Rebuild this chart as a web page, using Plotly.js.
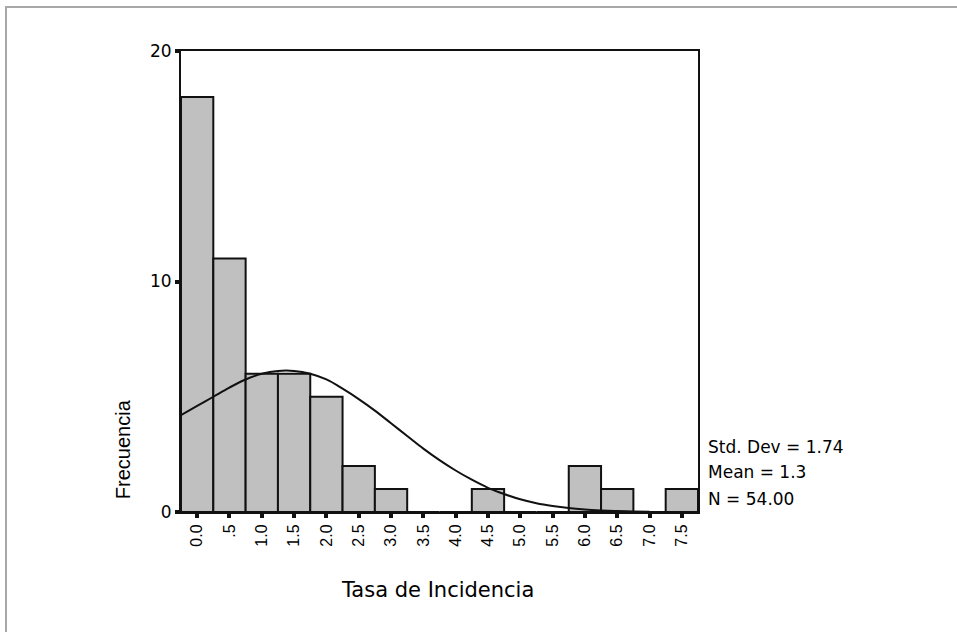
<!DOCTYPE html>
<html>
<head>
<meta charset="utf-8">
<script src="https://cdn.plot.ly/plotly-3.0.1.min.js"></script>
<style>
  html, body { margin: 0; padding: 0; background: #fff; }
  #wrap { position: relative; width: 957px; height: 632px; overflow: hidden; }
  #chart { position: absolute; left: 0; top: 0; width: 957px; height: 632px; }
  #frame { position: absolute; left: 5px; top: 6px; width: 960px; height: 640px;
           border-left: 2px solid #a8a8a8; border-top: 2px solid #a8a8a8; pointer-events: none; }
</style>
</head>
<body>
<div id="wrap">
  <div id="chart"></div>
  <div id="frame"></div>
</div>
<script>
// Histogram bins (centres) and frequencies
const binCenters = [0.0, 0.5, 1.0, 1.5, 2.0, 2.5, 3.0, 3.5, 4.0, 4.5, 5.0, 5.5, 6.0, 6.5, 7.0, 7.5];
const frequencies = [18, 11, 6, 6, 5, 2, 1, 0, 0, 1, 0, 0, 2, 1, 0, 1];
const tickLabels = ["0.0", ".5", "1.0", "1.5", "2.0", "2.5", "3.0", "3.5", "4.0", "4.5", "5.0", "5.5", "6.0", "6.5", "7.0", "7.5"];

// Normal curve
const curveX = [-0.25, 0, 0.25, 0.5, 0.75, 1.0, 1.25, 1.5, 1.75, 2.0, 2.25, 2.5, 2.75, 3.0, 3.25, 3.5, 3.75, 4.0, 4.25, 4.5, 4.75, 5.0, 5.25, 5.5, 5.75, 6.0, 6.25, 6.5, 6.75, 7.0];
const curveY = [4.2, 4.6, 5.0, 5.4, 5.75, 6.0, 6.12, 6.12, 6.0, 5.75, 5.35, 4.9, 4.4, 3.85, 3.3, 2.75, 2.25, 1.8, 1.4, 1.05, 0.78, 0.55, 0.38, 0.26, 0.17, 0.11, 0.07, 0.04, 0.02, 0.01];

const statsLines = ["Std. Dev = 1.74", "Mean = 1.3", "N = 54.00"];
const statsY = [2.82, 1.74, 0.58];

const FONT = "Liberation Sans, Arial, sans-serif";
const WIDE = "DejaVu Sans, Verdana, sans-serif";
const INK = "#000";

const traces = [
  {
    type: "bar",
    x: binCenters,
    y: frequencies,
    width: 0.5,
    marker: { color: "#c0c0c0", line: { color: "#111", width: 2 } },
    hoverinfo: "x+y"
  },
  {
    type: "scatter",
    mode: "lines",
    x: curveX,
    y: curveY,
    line: { color: "#111", width: 2, shape: "spline" },
    hoverinfo: "skip"
  }
];

const annotations = statsLines.map((t, i) => ({
  text: t, xref: "paper", yref: "y", x: 1.016, y: statsY[i],
  xanchor: "left", yanchor: "middle", showarrow: false,
  font: { family: WIDE, size: 17, color: INK }
}));
annotations.push({
  text: "Frecuencia", xref: "paper", yref: "y", x: -0.112, y: 2.73,
  xanchor: "center", yanchor: "middle", textangle: -90, showarrow: false,
  font: { family: FONT, size: 20, color: INK }
});
annotations.push({
  text: "Tasa de Incidencia", xref: "paper", yref: "paper", x: 0.497, y: -0.169,
  xanchor: "center", yanchor: "middle", showarrow: false,
  font: { family: WIDE, size: 21, color: INK }
});

const layout = {
  width: 957, height: 632,
  margin: { l: 181, r: 259, t: 51, b: 120, pad: 0 },
  paper_bgcolor: "#fff", plot_bgcolor: "#fff",
  showlegend: false,
  bargap: 0,
  xaxis: {
    range: [-0.25, 7.75],
    tickmode: "array", tickvals: binCenters, ticktext: tickLabels,
    tickangle: -90,
    ticks: "outside", ticklen: 4, tickwidth: 4, tickcolor: "#111",
    showline: true, mirror: true, linecolor: "#111", linewidth: 2,
    showgrid: false, zeroline: false,
    tickfont: { family: FONT, size: 16, color: INK },
    fixedrange: true
  },
  yaxis: {
    range: [0, 20],
    tickmode: "array", tickvals: [0, 10, 20], ticktext: ["0", "10", "20"],
    ticks: "outside", ticklen: 4, tickwidth: 4, tickcolor: "#111",
    showline: true, mirror: true, linecolor: "#111", linewidth: 2,
    showgrid: false, zeroline: false,
    tickfont: { family: WIDE, size: 17, color: INK },
    fixedrange: true
  },
  annotations: annotations
};

Plotly.newPlot("chart", traces, layout, { displayModeBar: false, staticPlot: true });
</script>
</body>
</html>
